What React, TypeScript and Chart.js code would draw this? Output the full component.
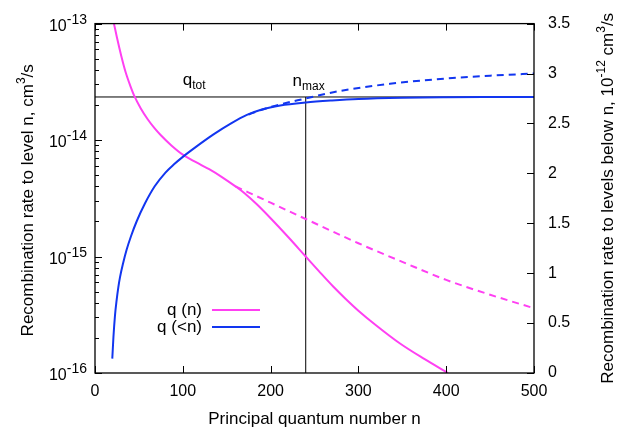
import React, { useEffect, useRef } from "react";
import { Chart, registerables } from "chart.js";

Chart.register(...registerables);

const FONT = "'Liberation Sans', Arial, Helvetica, sans-serif";
const MAGENTA = "#ff40f2";
const BLUE = "#1236f0";

// q(n): recombination rate to level n (cm^3/s), left log axis
const qnN = [21.6, 25, 30, 35, 40, 45, 52, 60, 68, 75, 87, 100, 115, 130, 145, 160, 170, 184, 200, 220, 240, 255, 271, 285, 300, 320, 347, 375, 402];
const qnVal = [1.0e-13, 7.59e-14, 5.25e-14, 3.8e-14, 2.95e-14, 2.37e-14, 1.88e-14, 1.51e-14, 1.26e-14, 1.1e-14, 9.0e-15, 7.5e-15, 6.46e-15, 5.62e-15, 4.79e-15, 4.0e-15, 3.51e-15, 2.82e-15, 2.13e-15, 1.47e-15, 1.0e-15, 7.5e-16, 5.56e-16, 4.37e-16, 3.43e-16, 2.57e-16, 1.8e-16, 1.32e-16, 1.0e-16];

// q(n) dashed continuation
const qnExtN = [160, 200, 240, 300, 350, 400, 450, 500];
const qnExtVal = [4.0e-15, 2.9e-15, 2.1e-15, 1.3e-15, 9.0e-16, 6.3e-16, 4.7e-16, 3.6e-16];

// q(<n): recombination rate to levels below n (1e-12 cm^3/s), right axis
const qltN = [19.7, 21, 22.8, 24.5, 26.6, 28.5, 32, 36, 41, 47.5, 57, 68, 80, 90, 100, 115, 135, 155, 173, 190, 211, 240, 270, 300, 350, 400, 450, 500];
const qltVal = [0.144, 0.36, 0.58, 0.72, 0.86, 0.96, 1.1, 1.235, 1.37, 1.52, 1.7, 1.87, 2.005, 2.09, 2.165, 2.265, 2.39, 2.5, 2.585, 2.64, 2.68, 2.71, 2.73, 2.745, 2.757, 2.762, 2.764, 2.765];

// q(<n) dashed continuation
const qltExtN = [175, 200, 240, 279, 336, 400, 450, 500];
const qltExtVal = [2.59, 2.665, 2.75, 2.825, 2.897, 2.95, 2.978, 3.0];

const Q_TOT = 2.765;
const N_MAX = 240;

const xTicks = [0, 100, 200, 300, 400, 500];
const leftDecades = [-16, -15, -14, -13];
const rightTicks = [0, 0.5, 1, 1.5, 2, 2.5, 3, 3.5];

const pts = (xs: number[], ys: number[]) => xs.map((x, i) => ({ x, y: ys[i] }));

type Seg = { t: string; size: number; dy: number };

function richWidth(ctx: CanvasRenderingContext2D, segs: Seg[]) {
  let w = 0;
  for (const s of segs) {
    ctx.font = `${s.size}px ${FONT}`;
    w += ctx.measureText(s.t).width;
  }
  return w;
}

function drawRich(ctx: CanvasRenderingContext2D, segs: Seg[], x: number, y: number) {
  let cx = x;
  for (const s of segs) {
    ctx.font = `${s.size}px ${FONT}`;
    ctx.fillText(s.t, cx, y + s.dy);
    cx += ctx.measureText(s.t).width;
  }
}

const decor = {
  id: "decor",
  afterDatasetsDraw(chart: any) {
    const { ctx, chartArea: a, scales } = chart;
    const x = scales.x, y = scales.y, y2 = scales.y2;
    ctx.save();
    ctx.strokeStyle = "#000";
    ctx.lineWidth = 1.3;
    ctx.strokeRect(a.left, a.top, a.right - a.left, a.bottom - a.top);

    ctx.lineWidth = 1;
    ctx.beginPath();
    for (const v of xTicks) {
      const px = Math.round(x.getPixelForValue(v)) + 0.5;
      ctx.moveTo(px, a.bottom);
      ctx.lineTo(px, a.bottom - 7);
      ctx.moveTo(px, a.top);
      ctx.lineTo(px, a.top + 7);
    }
    for (const d of leftDecades) {
      for (let m = 1; m <= 9; m++) {
        if (d === -13 && m > 1) break;
        const py = Math.round(y.getPixelForValue(m * Math.pow(10, d))) + 0.5;
        const len = m === 1 ? 7 : 4;
        ctx.moveTo(a.left, py);
        ctx.lineTo(a.left + len, py);
      }
    }
    for (const v of rightTicks) {
      const py = Math.round(y2.getPixelForValue(v)) + 0.5;
      ctx.moveTo(a.right, py);
      ctx.lineTo(a.right - 7, py);
    }
    ctx.stroke();

    ctx.fillStyle = "#000";
    ctx.textBaseline = "alphabetic";
    ctx.textAlign = "left";

    // left tick labels 10^k
    for (const d of leftDecades) {
      const py = y.getPixelForValue(Math.pow(10, d));
      const segs: Seg[] = [
        { t: "10", size: 16, dy: 7 },
        { t: "-" + Math.abs(d), size: 14, dy: 0 },
      ];
      const w = richWidth(ctx, segs);
      drawRich(ctx, segs, a.left - 8 - w, py);
    }

    // left axis title
    const leftSegs: Seg[] = [
      { t: "Recombination rate to level n, cm", size: 17, dy: 0 },
      { t: "3", size: 12, dy: -8 },
      { t: "/s", size: 17, dy: 0 },
    ];
    ctx.save();
    ctx.translate(33, (a.top + a.bottom) / 2 + 2);
    ctx.rotate(-Math.PI / 2);
    drawRich(ctx, leftSegs, -richWidth(ctx, leftSegs) / 2, 0);
    ctx.restore();

    // right axis title
    const rightSegs: Seg[] = [
      { t: "Recombination rate to levels below n, 10", size: 17, dy: 0 },
      { t: "-12", size: 12, dy: -8 },
      { t: " cm", size: 17, dy: 0 },
      { t: "3", size: 12, dy: -8 },
      { t: "/s", size: 17, dy: 0 },
    ];
    ctx.save();
    ctx.translate(613, (a.top + a.bottom) / 2);
    ctx.rotate(-Math.PI / 2);
    drawRich(ctx, rightSegs, -richWidth(ctx, rightSegs) / 2, 0);
    ctx.restore();

    // annotations
    const lineY = y2.getPixelForValue(Q_TOT);
    drawRich(ctx, [
      { t: "q", size: 17, dy: 0 },
      { t: "tot", size: 12, dy: 4 },
    ], x.getPixelForValue(100), lineY - 12);
    drawRich(ctx, [
      { t: "n", size: 17, dy: 0 },
      { t: "max", size: 12, dy: 4 },
    ], x.getPixelForValue(225), lineY - 11);

    // legend
    const legend = [
      { label: "q (n)", color: MAGENTA, yy: a.bottom - 63 },
      { label: "q (<n)", color: BLUE, yy: a.bottom - 46 },
    ];
    ctx.textAlign = "right";
    ctx.textBaseline = "middle";
    ctx.font = `17px ${FONT}`;
    for (const l of legend) {
      ctx.fillStyle = "#000";
      ctx.fillText(l.label, a.left + 107, l.yy);
      ctx.strokeStyle = l.color;
      ctx.lineWidth = 2;
      ctx.beginPath();
      ctx.moveTo(a.left + 117, l.yy);
      ctx.lineTo(a.left + 165, l.yy);
      ctx.stroke();
    }
    ctx.restore();
  },
};

export default function App() {
  const ref = useRef<HTMLCanvasElement | null>(null);
  useEffect(() => {
    if (!ref.current) return;
    const common = { pointRadius: 0, borderWidth: 2, fill: false, cubicInterpolationMode: "monotone" as const };
    const chart = new Chart(ref.current, {
      type: "line",
      data: {
        datasets: [
          { ...common, label: "q (<n)", data: pts(qltN, qltVal), borderColor: BLUE, yAxisID: "y2", order: 0 },
          { ...common, label: "q (<n) ext", data: pts(qltExtN, qltExtVal), borderColor: BLUE, borderDash: [7, 5], yAxisID: "y2", order: 0 },
          { ...common, label: "q (n)", data: pts(qnN, qnVal), borderColor: MAGENTA, yAxisID: "y", order: 1 },
          { ...common, label: "q (n) ext", data: pts(qnExtN, qnExtVal), borderColor: MAGENTA, borderDash: [7, 5], yAxisID: "y", order: 1 },
          { pointRadius: 0, borderWidth: 1, borderColor: "#000", label: "q_tot", data: [{ x: 0, y: Q_TOT }, { x: 500, y: Q_TOT }], yAxisID: "y2", order: 2 },
          { pointRadius: 0, borderWidth: 1, borderColor: "#000", label: "n_max", data: [{ x: N_MAX, y: 0 }, { x: N_MAX, y: Q_TOT }], yAxisID: "y2", order: 2 },
        ],
      },
      options: {
        animation: false,
        responsive: false,
        maintainAspectRatio: false,
        events: [],
        layout: { padding: { top: 15, left: 0, right: 0, bottom: 0 } },
        plugins: { legend: { display: false }, tooltip: { enabled: false } },
        scales: {
          x: {
            type: "linear",
            position: "bottom",
            min: 0,
            max: 500,
            grid: { display: false, drawTicks: false },
            border: { display: false },
            ticks: { stepSize: 100, color: "#000", font: { family: FONT, size: 16 }, padding: 9, maxRotation: 0, autoSkip: false },
            title: { display: true, text: "Principal quantum number n", color: "#000", font: { family: FONT, size: 17 }, padding: { top: 0, bottom: 0 } },
            afterFit: (s: any) => { s.height = 57; },
          },
          y: {
            type: "logarithmic",
            position: "left",
            min: 1e-16,
            max: 1e-13,
            grid: { display: false, drawTicks: false },
            border: { display: false },
            ticks: { display: false },
            afterFit: (s: any) => { s.width = 95; },
          },
          y2: {
            type: "linear",
            position: "right",
            min: 0,
            max: 3.5,
            grid: { display: false, drawTicks: false },
            border: { display: false },
            ticks: { stepSize: 0.5, color: "#000", font: { family: FONT, size: 16 }, padding: 14, callback: (v: any) => String(v) },
            afterFit: (s: any) => { s.width = 93; },
          },
        },
      } as any,
      plugins: [decor],
    });
    return () => chart.destroy();
  }, []);
  return (
    <div style={{ position: "absolute", left: 0, top: 0, width: 627, height: 430, background: "#fff" }}>
      <canvas ref={ref} width={627} height={430} style={{ display: "block" }} />
    </div>
  );
}
